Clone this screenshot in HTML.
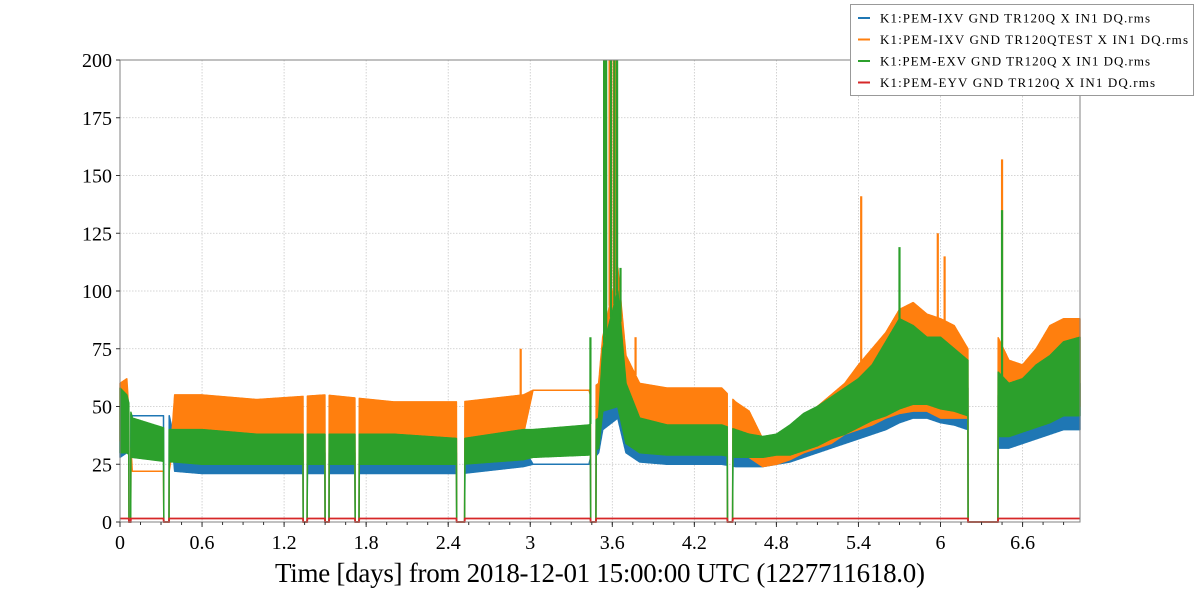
<!DOCTYPE html>
<html><head><meta charset="utf-8"><style>
body{margin:0;background:#fff;width:1200px;height:600px;overflow:hidden}
svg{font-family:"Liberation Serif",serif}
</style></head><body>
<svg id="chart" width="1200" height="600"></svg>
<script>
const times=[0,0.05,0.09,0.36,0.40,0.6,1.0,1.5,2.0,2.5,2.95,3.02,3.43,3.5,3.53,3.64,3.7,3.8,4.0,4.2,4.4,4.5,4.6,4.7,4.8,4.9,5.0,5.1,5.2,5.3,5.4,5.5,5.6,5.7,5.8,5.9,6.0,6.1,6.2,6.42,6.5,6.6,6.7,6.8,6.9,7.02];
const ixvLo=[28,30,46,46,22,21,21,21,21,21,24,25,25,30,40,45,30,26,25,25,25,24,24,24,25,26,28,30,32,34,36,38,40,43,45,45,43,42,40,32,32,34,36,38,40,40];
const ixvHi=[50,48,46,46,35,32,30,30,30,30,32,25,25,45,60,80,55,38,36,35,35,35,35,33,33,36,40,42,45,48,52,55,60,65,65,65,62,60,58,55,52,52,55,58,60,60];
const testLo=[35,38,22,22,38,35,33,33,33,33,38,57,57,42,50,55,38,35,35,35,37,35,28,24,25,27,30,32,34,38,40,42,45,47,48,48,45,45,45,40,40,42,45,48,50,50];
const testHi=[60,62,22,22,55,55,53,55,52,52,55,57,57,60,80,110,72,60,58,58,58,52,48,36,33,40,45,50,55,60,68,75,82,92,95,90,88,85,75,80,70,68,75,85,88,88];
const exvLo=[30,30,28,26,26,25,25,25,25,25,27,28,29,32,48,50,34,30,29,29,29,28,28,28,29,29,31,33,36,38,41,44,46,49,51,51,49,48,46,37,37,39,41,43,46,46];
const exvHi=[58,55,45,40,40,40,38,38,38,36,40,40,42,45,75,100,60,45,42,42,42,40,38,37,38,42,47,50,54,58,62,68,78,88,85,80,80,75,70,65,60,62,68,72,78,80];
const eyvLevel=[1.5];
const gapStart=[0.065,0.32,1.34,1.50,1.72,2.46,3.44,4.44,6.20];
const gapEnd=[0.08,0.36,1.37,1.53,1.75,2.52,3.48,4.48,6.42];
const spikeT=[2.93,3.77,5.42,5.98,6.03,6.45,3.545,3.58,3.61,3.63,3.44,5.70,6.45,3.54,3.555,3.59,3.615,3.635,3.66];
const spikeV=[75,80,141,125,115,157,200,200,200,200,80,119,135,200,200,200,200,200,110];
const spikeS=[1,1,1,1,1,1,1,1,1,1,2,2,2,2,2,2,2,2,2];
const xTicks=[0,0.6,1.2,1.8,2.4,3,3.6,4.2,4.8,5.4,6,6.6];
const yTicks=[0,25,50,75,100,125,150,175,200];
const names=["K1:PEM-IXV GND TR120Q X IN1 DQ.rms","K1:PEM-IXV GND TR120QTEST X IN1 DQ.rms","K1:PEM-EXV GND TR120Q X IN1 DQ.rms","K1:PEM-EYV GND TR120Q X IN1 DQ.rms"];
const colors=["#1f77b4","#ff7f0e","#2ca02c","#d62728"];
const legendLen=[270,308,270,275];

const X0=120,X1=1080,Y0=522,Y1=60,TMAX=7.02;
const sx=t=>X0+t/TMAX*(X1-X0);
const sy=v=>Y0-v/200*(Y0-Y1);
const svg=document.getElementById('chart');
const NS="http://www.w3.org/2000/svg";
function mk(tag,attrs,parent){const e=document.createElementNS(NS,tag);for(const k in attrs)e.setAttribute(k,attrs[k]);(parent||svg).appendChild(e);return e;}
function interp(arr,t){for(let i=0;i<times.length-1;i++){if(t<=times[i+1]){const f=(t-times[i])/(times[i+1]-times[i]);return arr[i]+(arr[i+1]-arr[i])*f;}}return arr[arr.length-1];}
function inGap(t){for(let i=0;i<gapStart.length;i++)if(t>=gapStart[i]&&t<=gapEnd[i])return true;return false;}

yTicks.forEach(v=>{const g=mk('line',{x1:X0,x2:X1,y1:sy(v),y2:sy(v),stroke:'#c8c8c8','stroke-width':0.8,'stroke-dasharray':'1.5,1.5'});

});
xTicks.forEach(t=>{const g=mk('line',{x1:sx(t),x2:sx(t),y1:Y1,y2:Y0,stroke:'#c8c8c8','stroke-width':0.8,'stroke-dasharray':'1.5,1.5'});

});

const los=[ixvLo,testLo,exvLo],his=[ixvHi,testHi,exvHi];
const dt=0.002;
for(let s=0;s<3;s++){
  const up=[],dn=[];
  for(let t=0;t<=TMAX+1e-9;t+=dt){
    let lo=interp(los[s],t),hi=interp(his[s],t);
    if(inGap(t)){lo=0;hi=0;}
    up.push(sx(t).toFixed(1)+','+sy(hi).toFixed(1));
    dn.push(sx(t).toFixed(1)+','+sy(lo).toFixed(1));
  }
  const p=mk('polygon',{points:up.concat(dn.reverse()).join(' '),fill:colors[s],stroke:colors[s],'stroke-width':1.5,'stroke-linejoin':'round'});
  
  
  for(let k=0;k<spikeT.length;k++){
    if(spikeS[k]!==s)continue;
    const l=mk('line',{x1:sx(spikeT[k]),x2:sx(spikeT[k]),y1:sy(interp(his[s],spikeT[k])),y2:sy(spikeV[k]),stroke:colors[s],'stroke-width':2.2});
    
    
  }
}
{const pts=[];for(let t=0;t<=TMAX+1e-9;t+=dt){const v=inGap(t)?0:eyvLevel[0];pts.push(sx(t).toFixed(1)+','+sy(v).toFixed(1));}
const r=mk('polyline',{points:pts.join(' '),fill:'none',stroke:colors[3],'stroke-width':1.8});

}

const fr=mk('rect',{x:X0,y:Y1,width:X1-X0,height:Y0-Y1,fill:'none',stroke:'#808080','stroke-width':1});


yTicks.forEach(v=>{mk('line',{x1:X0-4,x2:X0,y1:sy(v),y2:sy(v),stroke:'#333'});
const tx=mk('text',{x:X0-8,y:sy(v)+7,'text-anchor':'end','font-size':20,fill:'#000'});tx.textContent=v;

});
for(let t=0;t<=TMAX;t+=0.15){mk('line',{x1:sx(t),x2:sx(t),y1:Y0,y2:Y0+3,stroke:'#333'});}
xTicks.forEach(t=>{mk('line',{x1:sx(t),x2:sx(t),y1:Y0,y2:Y0+5,stroke:'#333'});
const tx=mk('text',{x:sx(t),y:Y0+27,'text-anchor':'middle','font-size':20,fill:'#000'});tx.textContent=String(t);

});
const xl=mk('text',{x:600,y:582,'text-anchor':'middle','font-size':27,fill:'#000',textLength:650});
xl.textContent='Time [days] from 2018-12-01 15:00:00 UTC (1227711618.0)';



const lg=mk('g',{});


mk('rect',{x:850.5,y:4.5,width:343,height:91,fill:'#fff',stroke:'#999','stroke-width':1},lg);
names.forEach((n,i)=>{const y=18+i*21.5;
mk('line',{x1:858,x2:870,y1:y,y2:y,stroke:colors[i],'stroke-width':2},lg);
const tx=mk('text',{x:880,y:y+4.5,'font-size':13,fill:'#000',textLength:legendLen[i]},lg);tx.textContent=n;

});
</script>
</body></html>
